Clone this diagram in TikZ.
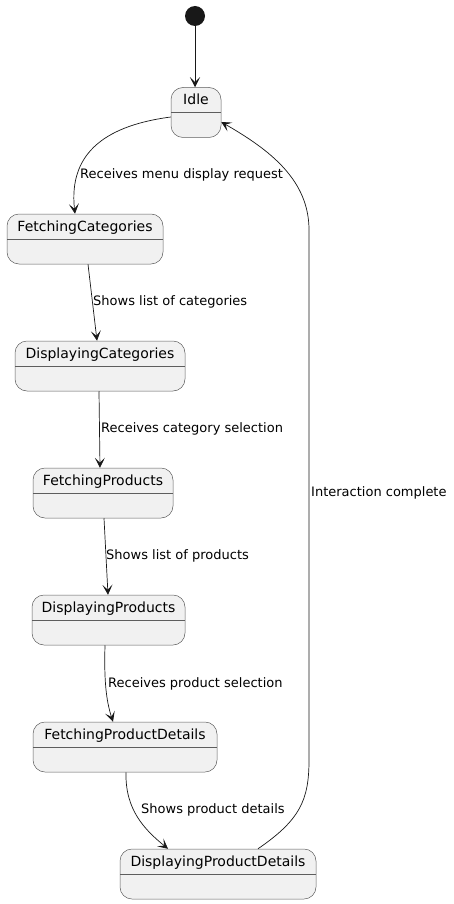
\documentclass[tikz,border=0pt]{standalone}
\usepackage{fontspec}
\setmainfont{DejaVu Sans}
\usetikzlibrary{calc}
\usetikzlibrary{arrows.meta}
\definecolor{stfill}{HTML}{F1F1F1}
\definecolor{stline}{HTML}{181818}

\begin{document}
\begin{tikzpicture}[x=1pt, y=1pt,
        stt/.style={draw=stline!70, line width=0.5pt, fill=stfill, rounded corners=12pt,
            minimum height=50pt, inner xsep=0pt, inner ysep=0pt, text height=17pt, text depth=33pt,
            font=\fontsize{14}{16}\selectfont,
            path picture={\draw[stline!70, line width=0.5pt] (path picture bounding box.west) -- (path picture bounding box.east);}},
        lbl/.style={anchor=west, inner sep=0pt, font=\fontsize{13}{15}\selectfont},
        tr/.style={draw=stline, line width=0.7pt, -{Stealth[length=10pt, width=10pt, inset=5pt]}}]
        \useasboundingbox (0,0) rectangle (453,-904);
        \node[circle, fill=stline, minimum size=20pt, inner sep=0pt] (start) at (195,-16) {};
        \foreach \nm/\x/\y/\w/\txt in {idle/196/112.5/50/Idle,
            fcat/85/239/156/FetchingCategories,
            dcat/100/366/170/DisplayingCategories,
            fprod/103/493/140/FetchingProducts,
            dprod/108.5/620/153/DisplayingProducts,
            fdet/125/747/184/FetchingProductDetails,
            ddet/218/874/196/DisplayingProductDetails} {
            \node[stt, minimum width=\w pt] (\nm) at (\x,-\y) {\txt};}
        % transitions
        \draw[tr] (start) -- (idle.north -| start);
        \draw[tr] ([yshift=-4.5pt]idle.west) .. controls (110,-125) and (68,-150) .. ([xshift=-10pt]fcat.north);
        \draw[tr] ([xshift=3pt]fcat.south) -- ([xshift=-3pt]dcat.north);
        \draw[tr] ([xshift=-1pt]dcat.south) -- ([xshift=-3pt]fprod.north);
        \draw[tr] ([xshift=1pt]fprod.south) -- ([xshift=-0.5pt]dprod.north);
        \draw[tr] ([xshift=-3.5pt]dprod.south) .. controls (104,-680) and (106,-700) .. ([xshift=-12pt]fdet.north);
        \draw[tr] ([xshift=1pt]fdet.south) .. controls (125,-810) and (145,-830) .. ([xshift=-50pt]ddet.north);
        \draw[tr] ([xshift=40pt]ddet.north) .. controls (300,-820) and (309,-800) .. (309,-760)
            -- (309,-230) .. controls (309,-180) and (270,-150) .. ([yshift=-9.5pt]idle.east);
        % labels
        \node[lbl] (l1) at (80,-175) {Receives menu display request};
        \node[lbl] (l2) at (93,-302) {Shows list of categories};
        \node[lbl] (l3) at (101,-429) {Receives category selection};
        \node[lbl] (l4) at (106,-556) {Shows list of products};
        \node[lbl] (l5) at (108,-684) {Receives product selection};
        \node[lbl] (l6) at (141,-810) {Shows product details};
        \node[lbl] (l7) at (311,-493) {Interaction complete};
\end{tikzpicture}
\end{document}
